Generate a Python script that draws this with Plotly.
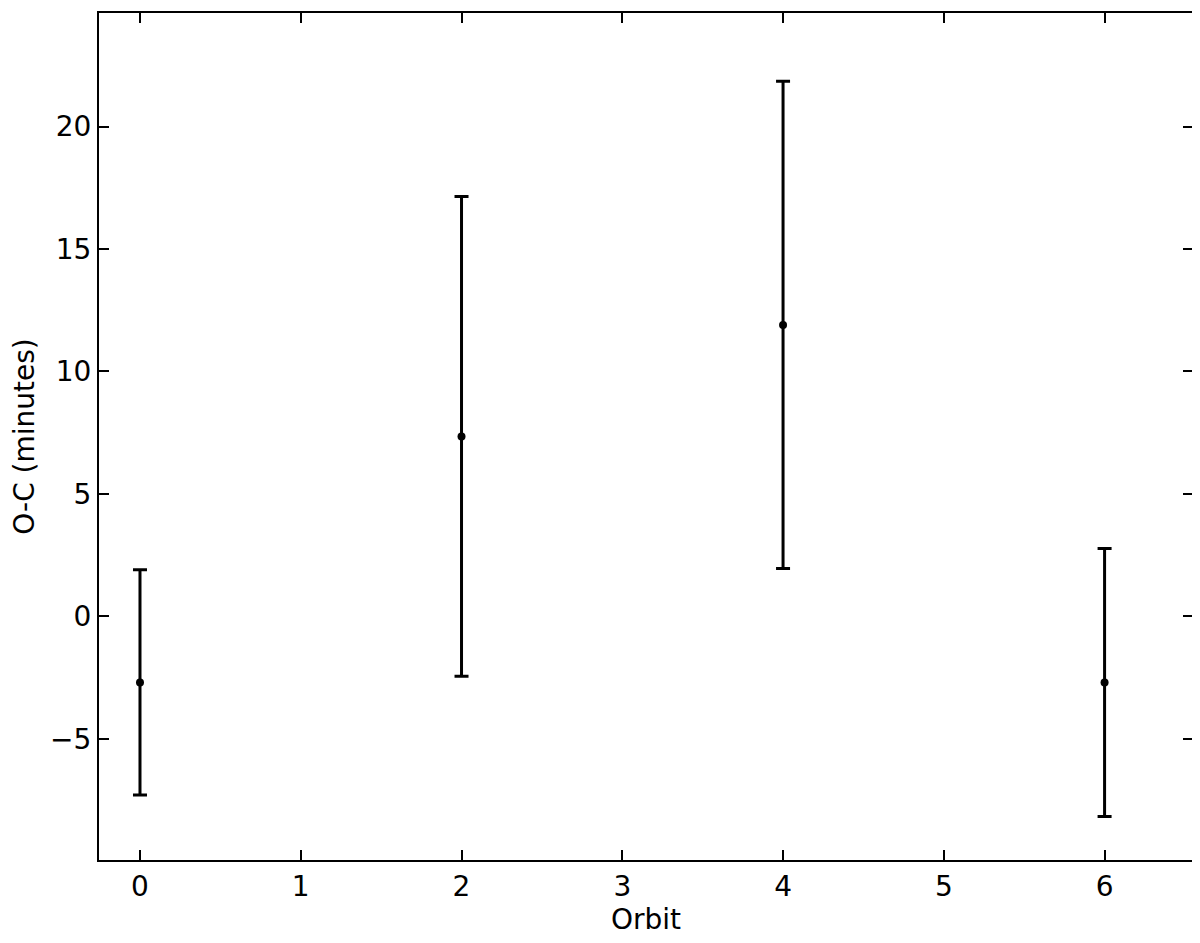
import plotly.graph_objects as go

# O-C timing residuals per orbit
orbit = [0, 2, 4, 6]
o_minus_c = [-2.7, 7.35, 11.9, -2.7]
o_minus_c_err = [4.6, 9.8, 9.95, 5.47]

x_ticks = [0, 1, 2, 3, 4, 5, 6]
y_ticks = [-5, 0, 5, 10, 15, 20]

fig = go.Figure()
fig.add_trace(go.Scatter(
    x=orbit,
    y=o_minus_c,
    mode='markers',
    marker=dict(color='black', size=8),
    error_y=dict(type='data', array=o_minus_c_err, visible=True,
                 color='black', thickness=3, width=7),
    showlegend=False,
))

axis_style = dict(
    showline=True, linecolor='black', linewidth=2, mirror='ticks',
    ticks='inside', ticklen=10, tickwidth=2, tickcolor='black',
    showgrid=False, zeroline=False,
    tickfont=dict(family='DejaVu Sans', size=28, color='black'),
)

fig.update_xaxes(range=[-0.255, 6.55], tickvals=x_ticks,
                 title=dict(text='Orbit', font=dict(family='DejaVu Sans', size=28, color='black'), standoff=6),
                 **axis_style)
fig.update_yaxes(range=[-9.95, 24.64], tickvals=y_ticks,
                 ticktext=['\u22125', '0', '5', '10', '15', '20'],
                 title=dict(text='O-C (minutes)', font=dict(family='DejaVu Sans', size=28, color='black'), standoff=14),
                 **axis_style)

# the page body adds an 8px offset, so the figure is drawn a bit smaller
fig.update_layout(
    width=1192, height=935,
    margin=dict(l=91, r=7, t=5, b=83, autoexpand=False),
    plot_bgcolor='white', paper_bgcolor='white',
    font=dict(family='DejaVu Sans', color='black'),
)

fig.write_html("out.html")
